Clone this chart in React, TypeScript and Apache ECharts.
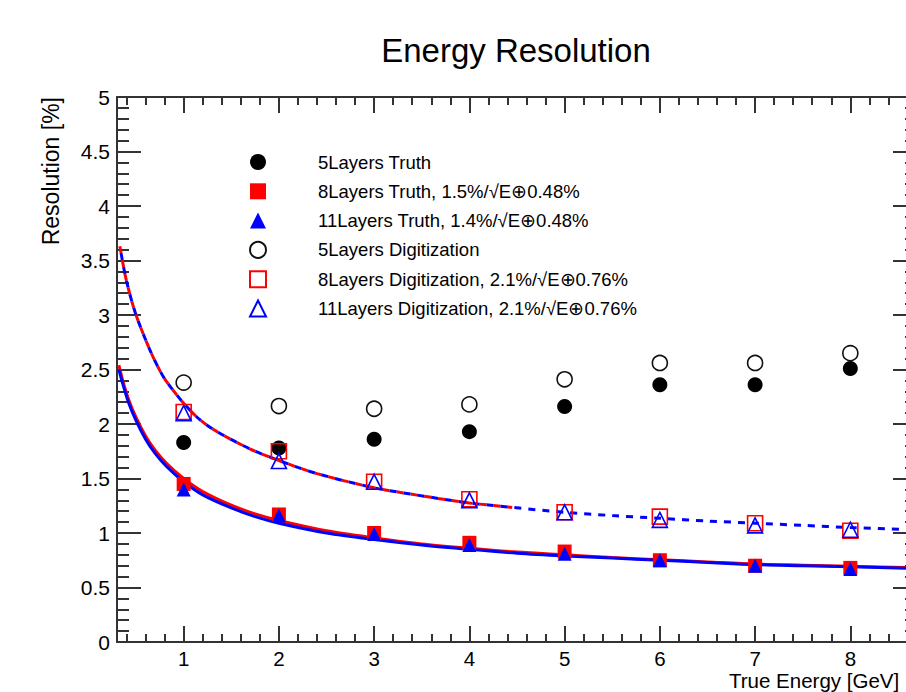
import React, { useEffect, useRef } from "react";
import * as echarts from "echarts";

// ---------- data ----------
const energies = [1, 2, 3, 4, 5, 6, 7, 8];
const truth5 = [1.83, 1.78, 1.86, 1.93, 2.16, 2.36, 2.36, 2.51];
const truth8 = [1.45, 1.17, 1.0, 0.91, 0.83, 0.75, 0.7, 0.68];
const truth11 = [1.4, 1.16, 0.99, 0.89, 0.81, 0.75, 0.7, 0.67];
const digi5 = [2.38, 2.165, 2.14, 2.18, 2.41, 2.56, 2.56, 2.65];
const digi8 = [2.11, 1.75, 1.47, 1.31, 1.19, 1.15, 1.09, 1.02];
const digi11 = [2.1, 1.66, 1.47, 1.3, 1.19, 1.12, 1.07, 1.03];

// fit curves
const fitSolidE = [0.32, 0.36, 0.42, 0.5, 0.6, 0.7, 0.82, 1.0, 1.2, 1.5, 1.75, 2.0, 2.5, 3.0, 3.5, 4.0, 4.5, 5.0, 5.5, 6.0, 6.5, 7.0, 7.5, 8.0, 8.7];
const fitTruth8 = [2.54, 2.4, 2.23, 2.06, 1.89, 1.76, 1.64, 1.5, 1.38, 1.255, 1.175, 1.115, 1.02, 0.955, 0.9, 0.86, 0.825, 0.8, 0.775, 0.755, 0.735, 0.715, 0.705, 0.695, 0.68];
const fitTruth11 = [2.5, 2.37, 2.2, 2.03, 1.86, 1.73, 1.61, 1.47, 1.35, 1.23, 1.15, 1.09, 1.0, 0.94, 0.89, 0.85, 0.815, 0.79, 0.77, 0.75, 0.73, 0.71, 0.7, 0.69, 0.675];
const fitDashE = [0.33, 0.4, 0.5, 0.65, 0.75, 0.82, 1.0, 1.17, 1.35, 1.7, 2.0, 2.4, 3.0, 3.4, 3.8, 4.0, 4.45, 5.0, 5.5, 6.0, 6.5, 7.0, 7.5, 8.0, 8.7];
const fitDigi = [3.63, 3.31, 3.0, 2.67, 2.49, 2.39, 2.19, 2.04, 1.93, 1.77, 1.665, 1.545, 1.415, 1.355, 1.3, 1.275, 1.235, 1.19, 1.16, 1.135, 1.11, 1.09, 1.07, 1.05, 1.03];
const redDashedEnd = 4.45;

const xLabels = [1, 2, 3, 4, 5, 6, 7, 8];
const names = [
  "5Layers Truth",
  "8Layers Truth, 1.5%/√E⊕0.48%",
  "11Layers Truth, 1.4%/√E⊕0.48%",
  "5Layers Digitization",
  "8Layers Digitization, 2.1%/√E⊕0.76%",
  "11Layers Digitization, 2.1%/√E⊕0.76%",
];

// ---------- layout ----------
const FONT = '"Liberation Sans", Arial, Helvetica, sans-serif';
const AXIS_COLOR = "#333";
const X_MIN = 0.3;
const X_MAX = 8.7;
const xMinorTicks: number[] = [];
for (let k = 2; k <= 43; k++) {
  const v = Math.round(k * 2) / 10;
  if (Math.abs(v - Math.round(v)) > 1e-6) xMinorTicks.push(v);
}

const pairs = (xs: number[], ys: number[]) => xs.map((x, i) => [x, ys[i]]);

function buildOption(): any {
  const baseX = {
    type: "value",
    min: X_MIN,
    max: X_MAX,
    gridIndex: 0,
    splitLine: { show: false },
  };
  const baseY = {
    type: "value",
    min: 0,
    max: 5,
    interval: 0.5,
    splitLine: { show: false },
    axisTick: { show: true, inside: true, length: 24, lineStyle: { color: AXIS_COLOR, width: 2 } },
    minorTick: { show: true, splitNumber: 5, length: 12, lineStyle: { color: AXIS_COLOR, width: 2 } },
    axisLine: { show: true, lineStyle: { color: AXIS_COLOR, width: 2 } },
  };
  const dashedRed = pairs(fitDashE, fitDigi).filter((p) => p[0] <= redDashedEnd);
  const lineCommon = {
    type: "line",
    smooth: 0.3,
    symbol: "none",
    silent: true,
    z: 1,
  };
  const scatterCommon = { type: "scatter", z: 3, silent: true };
  return {
    animation: false,
    backgroundColor: "#fff",
    title: {
      text: "Energy Resolution",
      left: 511,
      top: 29,
      textAlign: "center",
      textStyle: { fontSize: 33, fontWeight: "normal", color: "#000", fontFamily: FONT },
    },
    grid: { left: 117, top: 97, width: 800, height: 545, show: false },
    xAxis: [
      {
        ...baseX,
        position: "bottom",
        axisLine: { show: true, onZero: false, lineStyle: { color: AXIS_COLOR, width: 2 } },
        axisTick: { show: true, inside: true, length: 16, customValues: xLabels, lineStyle: { color: AXIS_COLOR, width: 2 } },
        axisLabel: { show: true, customValues: xLabels, margin: 7.5, fontSize: 20.5, lineHeight: 17, color: "#000", fontFamily: FONT },
      },
      {
        ...baseX,
        position: "bottom",
        axisLine: { show: false, onZero: false },
        axisTick: { show: true, inside: true, length: 8, customValues: xMinorTicks, lineStyle: { color: AXIS_COLOR, width: 2 } },
        axisLabel: { show: false },
      },
      {
        ...baseX,
        position: "top",
        axisLine: { show: true, onZero: false, lineStyle: { color: AXIS_COLOR, width: 2 } },
        axisTick: { show: true, inside: true, length: 16, customValues: xLabels, lineStyle: { color: AXIS_COLOR, width: 2 } },
        axisLabel: { show: false },
      },
      {
        ...baseX,
        position: "top",
        axisLine: { show: false, onZero: false },
        axisTick: { show: true, inside: true, length: 8, customValues: xMinorTicks, lineStyle: { color: AXIS_COLOR, width: 2 } },
        axisLabel: { show: false },
      },
    ],
    yAxis: [
      {
        ...baseY,
        position: "left",
        axisLabel: { show: true, margin: 7, fontSize: 21, color: "#000", fontFamily: FONT },
      },
      {
        ...baseY,
        position: "right",
        axisLabel: { show: false },
      },
    ],
    legend: {
      orient: "vertical",
      left: 244,
      top: 147,
      itemWidth: 16,
      itemHeight: 16,
      itemGap: 9.3,
      selectedMode: false,
      textStyle: { fontSize: 18.5, lineHeight: 20, color: "#000", fontFamily: FONT, padding: [0, 0, 0, 47] },
      data: names,
    },
    graphic: [
      {
        type: "text",
        x: 51,
        y: 97,
        rotation: Math.PI / 2,
        style: { text: "Resolution [%]", fontSize: 23, fontFamily: FONT, fill: "#000", align: "right", verticalAlign: "middle" },
      },
      {
        type: "text",
        x: 729,
        y: 680.5,
        style: { text: "True Energy [GeV]", fontSize: 20.5, lineHeight: 18, fontFamily: FONT, fill: "#000", align: "left", verticalAlign: "middle" },
      },
    ],
    series: [
      {
        ...lineCommon,
        name: "fit8Truth",
        data: pairs(fitSolidE, fitTruth8),
        lineStyle: { color: "#ff0000", width: 3 },
      },
      {
        ...lineCommon,
        name: "fit11Truth",
        data: pairs(fitSolidE, fitTruth11),
        lineStyle: { color: "#0000ff", width: 3 },
      },
      {
        ...lineCommon,
        name: "fit8Digi",
        data: dashedRed,
        lineStyle: { color: "#ff0000", width: 3, type: [7, 7], dashOffset: 0 },
      },
      {
        ...lineCommon,
        name: "fit11Digi",
        data: pairs(fitDashE, fitDigi),
        lineStyle: { color: "#0000ff", width: 3, type: [7, 7], dashOffset: 7 },
      },
      {
        ...scatterCommon,
        name: names[0],
        data: pairs(energies, truth5),
        symbol: "circle",
        symbolSize: 15,
        itemStyle: { color: "#000", opacity: 1 },
      },
      {
        ...scatterCommon,
        name: names[1],
        data: pairs(energies, truth8),
        symbol: "rect",
        symbolSize: 14,
        itemStyle: { color: "#ff0000", opacity: 1 },
      },
      {
        ...scatterCommon,
        name: names[2],
        data: pairs(energies, truth11),
        symbol: "triangle",
        symbolSize: 14,
        itemStyle: { color: "#0000ff", opacity: 1 },
      },
      {
        ...scatterCommon,
        name: names[3],
        data: pairs(energies, digi5),
        symbol: "circle",
        symbolSize: 15,
        itemStyle: { color: "rgba(0,0,0,0)", borderColor: "#111", borderWidth: 1.6, opacity: 1 },
      },
      {
        ...scatterCommon,
        name: names[4],
        data: pairs(energies, digi8),
        symbol: "rect",
        symbolSize: 15,
        itemStyle: { color: "rgba(0,0,0,0)", borderColor: "#ff0000", borderWidth: 1.6, opacity: 1 },
      },
      {
        ...scatterCommon,
        name: names[5],
        data: pairs(energies, digi11),
        symbol: "triangle",
        symbolSize: 15,
        itemStyle: { color: "rgba(0,0,0,0)", borderColor: "#0000ff", borderWidth: 1.6, opacity: 1 },
      },
    ],
  };
}

export default function App() {
  const ref = useRef<HTMLDivElement>(null);
  useEffect(() => {
    if (!ref.current) return;
    const chart = echarts.init(ref.current, null, { renderer: "svg" });
    chart.setOption(buildOption());
    return () => chart.dispose();
  }, []);
  return (
    <div
      style={{
        position: "fixed",
        left: 0,
        top: 0,
        width: 906,
        height: 692,
        overflow: "hidden",
        background: "#fff",
      }}
    >
      <div ref={ref} style={{ width: 940, height: 692 }} />
    </div>
  );
}
